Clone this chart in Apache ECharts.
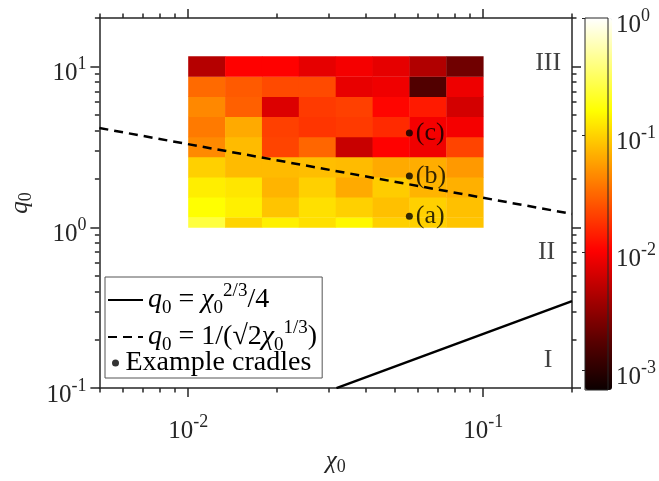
<!DOCTYPE html>
<html><head><meta charset="utf-8">
<script src="https://cdn.jsdelivr.net/npm/echarts@6/dist/echarts.min.js"></script>
<style>html,body{margin:0;padding:0;background:#fff}#c{width:659px;height:481px}</style>
</head><body><div id="c"></div>
<script>
// ---- data ----
const chiEdges = [0.01, 0.013335, 0.017783, 0.023714, 0.031623, 0.04217, 0.056234, 0.074989, 0.1];
const qEdges = [1.0, 1.1548, 1.5399, 2.0535, 2.7384, 3.6517, 4.8697, 6.4938, 8.6596, 11.548];
// rows from bottom (q = 1) to top
const fieldValues = [
  [0.255, 0.102, 0.137, 0.115, 0.149, 0.0975, 0.0975, 0.0855],
  [0.162, 0.137, 0.0855, 0.115, 0.0975, 0.0818, 0.0975, 0.0818],
  [0.134, 0.123, 0.072, 0.0975, 0.0648, 0.093, 0.072, 0.069],
  [0.0975, 0.0777, 0.0777, 0.080, 0.0777, 0.0648, 0.067, 0.054],
  [0.046, 0.0777, 0.0217, 0.0312, 0.0058, 0.0105, 0.0089, 0.0217],
  [0.0386, 0.0648, 0.0208, 0.0185, 0.0195, 0.0164, 0.0094, 0.0094],
  [0.045, 0.0292, 0.0072, 0.0195, 0.0208, 0.011, 0.0138, 0.0065],
  [0.0326, 0.0274, 0.0231, 0.0231, 0.00815, 0.0089, 0.0016, 0.0087],
  [0.0047, 0.0105, 0.0105, 0.0080, 0.0094, 0.0080, 0.0045, 0.00225]
];
const solidLine = [[0.0318, 0.1], [0.2, 0.347]];
const dashedLine = [[0.005, 4.14], [0.2, 1.21]];
const cradleChi = [0.0562, 0.0562, 0.0562];
const cradleQ = [1.17, 2.08, 3.85];
const cradleLabels = ['(a)', '(b)', '(c)'];
const regionLabels = ['III', 'II', 'I'];
const regionChi = [0.166, 0.164, 0.166];
const regionQ = [10.5, 0.70, 0.149];
const xMajorTicks = [0.01, 0.1];
const xMinorTicks = [0.005, 0.006, 0.007, 0.008, 0.009, 0.02, 0.03, 0.04, 0.05, 0.06, 0.07, 0.08, 0.09, 0.2];
const yMajorTicks = [0.1, 1, 10];
const yMinorTicks = [0.2, 0.3, 0.4, 0.5, 0.6, 0.7, 0.8, 0.9, 2, 3, 4, 5, 6, 7, 8, 9, 20];
const cbarTicks = [-3, -2, -1, 0];
const cbarMin = -3.17, cbarMax = 0;
const hotColors = ['#0b0000', '#550000', '#aa0000', '#ff0000', '#ff5500', '#ffaa00', '#ffff00', '#ffff80', '#ffffff'];

// ---- build ----
const heatData = [];
for (let r = 0; r < fieldValues.length; r++) {
  for (let c = 0; c < fieldValues[r].length; c++) {
    heatData.push([chiEdges[c], chiEdges[c + 1], qEdges[r], qEdges[r + 1], Math.log10(fieldValues[r][c])]);
  }
}
const cradleData = cradleChi.map((x, i) => [x, cradleQ[i]]);
const regionData = regionChi.map((x, i) => [x, regionQ[i]]);

const SERIF = "'Liberation Serif', 'Times New Roman', serif";
const AX = '#262626';
const tickRich = {
  b: { fontFamily: SERIF, fontSize: 25, lineHeight: 36, color: AX },
  s: { fontFamily: SERIF, fontSize: 18, lineHeight: 18, verticalAlign: 'top', color: AX }
};
const powLabel = v => '{b|10}{s|' + Math.round(Math.log10(v)) + '}';
const nameRich = {
  i: { fontFamily: SERIF, fontStyle: 'italic', fontSize: 25, lineHeight: 30, color: AX },
  sub: { fontFamily: SERIF, fontSize: 18, lineHeight: 22, verticalAlign: 'bottom', color: AX }
};
const legRich = {
  t: { fontFamily: SERIF, fontSize: 28, lineHeight: 36, color: '#000' },
  i: { fontFamily: SERIF, fontStyle: 'italic', fontSize: 28, lineHeight: 36, color: '#000' },
  sub: { fontFamily: SERIF, fontSize: 19, lineHeight: 27, verticalAlign: 'bottom', color: '#000' },
  sup: { fontFamily: SERIF, fontSize: 19, lineHeight: 20, verticalAlign: 'top', color: '#000' },
  t2: { fontFamily: SERIF, fontSize: 28, lineHeight: 28, color: '#000' }
};
const legendText = {
  solid: '{i|q}{sub|0}{t| = }{i|χ}{sub|0}{sup|2/3}{t|/4}',
  dashed: '{i|q}{sub|0}{t| = 1/(√2}{i|χ}{sub|0}{sup|1/3}{t|)}',
  cradles: '{t2|Example cradles}'
};

function logX(pos, ticks, len, withLine) {
  return {
    gridIndex: 0, type: 'log', logBase: 10, min: 0.005, max: 0.2, position: pos,
    axisLine: { show: withLine, onZero: false, lineStyle: { color: AX, width: 1.5 } },
    axisTick: { show: true, customValues: ticks, length: len, inside: false, lineStyle: { color: AX, width: 1.5 } },
    axisLabel: { show: false }, splitLine: { show: false }, minorTick: { show: false }
  };
}
function logY(pos, ticks, len, withLine) {
  return {
    gridIndex: 0, type: 'log', logBase: 10, min: 0.1, max: 20, position: pos,
    axisLine: { show: withLine, onZero: false, lineStyle: { color: AX, width: 1.5 } },
    axisTick: { show: true, customValues: ticks, length: len, inside: false, lineStyle: { color: AX, width: 1.5 } },
    axisLabel: { show: false }, splitLine: { show: false }, minorTick: { show: false }
  };
}
const xMain = logX('bottom', xMajorTicks, 9, true);
xMain.axisLabel = { show: true, customValues: xMajorTicks, formatter: powLabel, margin: 25, rich: tickRich };
xMain.name = '{i|χ}{sub|0}';
xMain.nameLocation = 'middle';
xMain.nameGap = 56;
xMain.nameTextStyle = { rich: nameRich };
const yMain = logY('left', yMajorTicks, 9, true);
yMain.axisLabel = { show: true, customValues: yMajorTicks, formatter: powLabel, margin: 13, padding: [14, 0, 0, 0], rich: tickRich };
yMain.name = '{i|q}{sub|0}';
yMain.nameLocation = 'middle';
yMain.nameRotate = 90;
yMain.nameGap = 60;
yMain.nameTextStyle = { rich: nameRich };

const option = {
  animation: false,
  backgroundColor: '#fff',
  grid: [
    { left: 97, top: 18, width: 475, height: 374 },
    { left: 585, top: 18, width: 27, height: 372, show: true, borderColor: AX, borderWidth: 1, backgroundColor: 'rgba(0,0,0,0)', z: 10 }
  ],
  xAxis: [
    xMain,
    logX('bottom', xMinorTicks, 4.5, false),
    logX('top', xMajorTicks, 9, true),
    logX('top', xMinorTicks, 4.5, false),
    { gridIndex: 1, type: 'value', min: 0, max: 1, show: false }
  ],
  yAxis: [
    yMain,
    logY('left', yMinorTicks, 4.5, false),
    logY('right', yMajorTicks, 9, true),
    logY('right', yMinorTicks, 4.5, false),
    {
      gridIndex: 1, type: 'value', min: cbarMin, max: cbarMax, position: 'right', z: 10,
      axisLine: { show: false },
      axisTick: { show: true, inside: true, length: 3, customValues: cbarTicks, lineStyle: { color: AX, width: 1 } },
      axisLabel: { show: true, customValues: cbarTicks, formatter: v => '{b|10}{s|' + Math.round(v) + '}', margin: 8, padding: [14, 0, 0, 0], rich: tickRich },
      splitLine: { show: false }
    }
  ],
  visualMap: {
    type: 'continuous', min: cbarMin, max: cbarMax, dimension: 4, seriesIndex: 0,
    inRange: { color: hotColors },
    left: 585, top: 18, itemWidth: 27, itemHeight: 372, padding: 0,
    calculable: false, showLabel: false, text: null, hoverLink: false, realtime: false, orient: 'vertical'
  },
  legend: [
    {
      data: ['solid', 'dashed'], orient: 'vertical', left: 105, top: 277,
      itemWidth: 35, itemHeight: 7, itemGap: 1, padding: [5, 5, 23, 2],
      borderColor: '#555', borderWidth: 1, borderRadius: 0, backgroundColor: '#fff',
      itemStyle: { opacity: 0 },
      selectedMode: false, formatter: n => legendText[n], textStyle: { rich: legRich }, z: 4
    },
    {
      data: ['cradles'], orient: 'vertical', left: 112, top: 349,
      itemWidth: 10, itemHeight: 7, padding: 0,
      selectedMode: false, formatter: n => legendText[n], textStyle: { rich: legRich }, z: 5
    }
  ],
  series: [
    {
      type: 'custom', xAxisIndex: 0, yAxisIndex: 0, silent: true, z: 1,
      encode: { x: [0, 1], y: [2, 3] },
      renderItem: function (params, api) {
        const p0 = api.coord([api.value(0), api.value(3)]);
        const p1 = api.coord([api.value(1), api.value(2)]);
        return {
          type: 'rect',
          shape: { x: p0[0], y: p0[1], width: p1[0] - p0[0] + 0.4, height: p1[1] - p0[1] + 0.4 },
          style: { fill: api.visual('color') }
        };
      },
      data: heatData
    },
    {
      name: 'solid', type: 'line', data: solidLine, symbol: 'none', silent: true, z: 3,
      lineStyle: { color: '#000', width: 2.5 }, itemStyle: { color: '#000' }
    },
    {
      name: 'dashed', type: 'line', data: dashedLine, symbol: 'none', silent: true, z: 3,
      lineStyle: { color: '#000', width: 2.5, type: [9, 6] }, itemStyle: { color: '#000' }
    },
    {
      name: 'cradles', type: 'scatter', data: cradleData, symbol: 'circle', symbolSize: 7, silent: true, z: 4,
      itemStyle: { color: '#000' },
      label: { show: true, position: 'right', distance: 3, formatter: p => cradleLabels[p.dataIndex], fontFamily: SERIF, fontSize: 26, color: '#000' }
    },
    {
      type: 'scatter', data: regionData, symbolSize: 1, silent: true, z: 4,
      itemStyle: { color: 'rgba(0,0,0,0)' },
      label: { show: true, position: 'inside', formatter: p => regionLabels[p.dataIndex], fontFamily: SERIF, fontSize: 26, color: '#111' }
    }
  ]
};
const chart = echarts.init(document.getElementById('c'), null, { renderer: 'canvas' });
chart.setOption(option);
</script></body></html>
